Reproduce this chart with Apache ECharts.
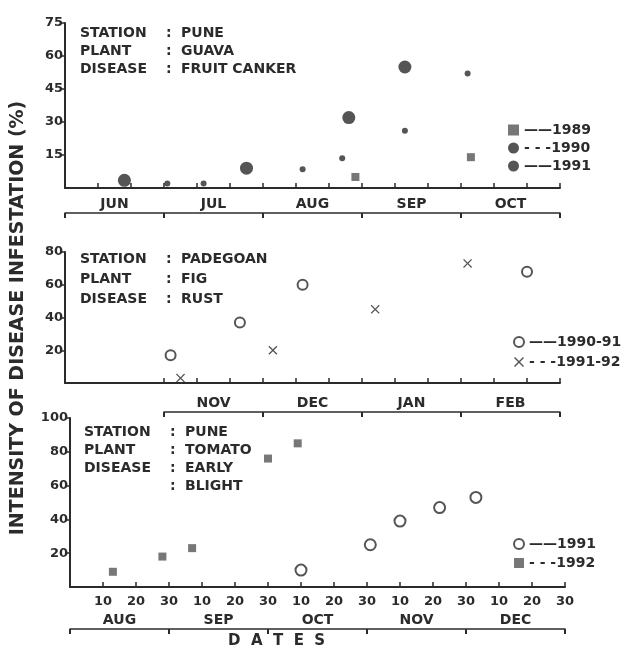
<!DOCTYPE html>
<html>
<head>
<meta charset="utf-8">
<script src="https://cdn.jsdelivr.net/npm/echarts@6/dist/echarts.min.js"></script>
<style>
  html, body { margin: 0; padding: 0; background: #fff; }
  #chart { width: 633px; height: 649px; }
</style>
</head>
<body>
<div id="chart"></div>
<script>
// x values are days counted from the first month shown in each panel (30 days per month)

// Panel 1: Pune, guava, fruit canker (Jun - Oct)
const guavaMonths = ['JUN', 'JUL', 'AUG', 'SEP', 'OCT'];
const guava1989 = [[88, 5], [123, 14]];
const guava1990 = [[18, 3.5], [55, 9], [86, 32], [103, 55]];
const guava1991 = [[31, 2], [42, 2], [72, 8.5], [84, 13.5], [103, 26], [122, 52]];

// Panel 2: Padegoan, fig, rust (Oct - Feb, labelled Nov - Feb)
const figMonths = ['NOV', 'DEC', 'JAN', 'FEB'];
const fig9091 = [[32, 17], [53, 37], [72, 60], [140, 68]];
const fig9192 = [[35, 3], [63, 20], [94, 45], [122, 73]];

// Panel 3: Pune, tomato, early blight (Aug - Dec)
const tomatoMonths = ['AUG', 'SEP', 'OCT', 'NOV', 'DEC'];
const tomato1991 = [[70, 10], [91, 25], [100, 39], [112, 47], [123, 53]];
const tomato1992 = [[13, 9], [28, 18], [37, 23], [60, 76], [69, 85]];

const ink = '#2b2b2b';
const font = "'DejaVu Sans', sans-serif";
const crossPath = 'path://M0,1L1,0L5,4L9,0L10,1L6,5L10,9L9,10L5,6L1,10L0,9L4,5Z';
// small dot inside a larger invisible box is not possible, so use a plain small circle path
const dotPath = 'path://M5,2A3,3,0,1,1,4.99,2Z';

const chart = echarts.init(document.getElementById('chart'));

function mainX(gridIndex, opts) {
    return Object.assign({
        type: 'value', gridIndex, min: 0, max: 150, interval: 10,
        splitLine: { show: false },
        axisLine: { onZero: false, lineStyle: { color: ink, width: 2 } },
        axisTick: { inside: true, length: 5, lineStyle: { color: ink, width: 1.5 } },
        axisLabel: { show: false }
    }, opts || {});
}

function monthX(gridIndex, min, offset, months) {
    const bounds = [], mids = [];
    for (let d = min; d <= 150; d += 30) bounds.push(d);
    for (let d = min + 15; d < 150; d += 30) mids.push(d);
    return {
        type: 'value', gridIndex, min, max: 150, offset,
        position: 'bottom',
        splitLine: { show: false },
        axisLine: { onZero: false, symbol: ['none', 'none'], lineStyle: { color: ink, width: 1.5 } },
        axisTick: { customValues: bounds, length: 5, lineStyle: { color: ink, width: 2 } },
        axisLabel: {
            customValues: mids, inside: true, margin: 2,
            color: ink, fontFamily: font, fontWeight: 'bold', fontSize: 14,
            formatter: v => months[Math.round((v - min - 15) / 30)]
        }
    };
}

function valY(gridIndex, max, interval) {
    return {
        type: 'value', gridIndex, min: 0, max, interval,
        splitLine: { show: false },
        axisLine: { show: true, lineStyle: { color: ink, width: 2 } },
        axisTick: { show: true, length: 5, lineStyle: { color: ink, width: 1.5 } },
        axisLabel: {
            showMinLabel: false, margin: 2,
            color: ink, fontFamily: font, fontWeight: 'bold', fontSize: 13
        }
    };
}

function infoText(x, top, lines, values, lineHeight) {
    const style = { fill: ink, font: 'bold 14px ' + font, lineHeight };
    return [
        { type: 'text', left: x, top, style: Object.assign({ text: lines.join('\n') }, style) },
        { type: 'text', left: x + 86, top, style: Object.assign({ text: lines.map(() => ':').join('\n') }, style) },
        { type: 'text', left: x + 101, top, style: Object.assign({ text: values.join('\n') }, style) }
    ];
}

const legendText = { fontFamily: font, fontWeight: 'bold', fontSize: 14, color: ink };
const legendLines = {
    '1989': '——', '1990': '- - -', '1991': '——', '1992': '- - -',
    '1990-91': '——', '1991-92': '- - -'
};
const legendFormat = n => legendLines[n.trim()] + n.trim();

chart.setOption({
    backgroundColor: '#fff',
    animation: false,
    grid: [
        { left: 65, right: 73, top: 23, height: 165 },
        { left: 65, right: 73, top: 252, height: 131 },
        { left: 164, right: 73, top: 252, height: 131 },
        { left: 70, right: 68, top: 418, height: 169 }
    ],
    xAxis: [
        mainX(0),
        monthX(0, 0, 25, guavaMonths),
        mainX(1, { axisTick: { inside: true, length: 5, customValues: [30, 40, 50, 60, 70, 80, 90, 100, 110, 120, 130, 140, 150], lineStyle: { color: ink, width: 1.5 } } }),
        monthX(2, 30, 29, figMonths),
        mainX(3, {
            axisLabel: {
                show: true, showMinLabel: false, margin: 8,
                color: ink, fontFamily: font, fontWeight: 'bold', fontSize: 13,
                formatter: v => String(v % 30 === 0 ? 30 : v % 30)
            }
        }),
        monthX(3, 0, 42, tomatoMonths)
    ],
    yAxis: [
        valY(0, 75, 15),
        valY(1, 80, 20),
        { type: 'value', gridIndex: 2, min: 0, max: 80, show: false },
        valY(3, 100, 20)
    ],
    legend: [
        {
            orient: 'vertical', left: 503, top: 118, itemGap: 4, itemWidth: 11, itemHeight: 11,
            selectedMode: false, textStyle: legendText, formatter: legendFormat,
            data: [{ name: '1989', icon: 'rect' }, { name: '1990', icon: 'circle' }, { name: '1991', icon: 'circle' }]
        },
        {
            orient: 'vertical', left: 508, top: 330, itemGap: 6, itemWidth: 10, itemHeight: 10,
            selectedMode: false, textStyle: legendText, formatter: legendFormat,
            data: [{ name: '1990-91', icon: 'emptyCircle' }, { name: '1991-92', icon: crossPath }]
        },
        {
            orient: 'vertical', left: 508, top: 532, itemGap: 5, itemWidth: 10, itemHeight: 10,
            selectedMode: false, textStyle: legendText, formatter: legendFormat,
            data: [{ name: '1991 ', icon: 'emptyCircle' }, { name: '1992', icon: 'rect' }]
        }
    ],
    graphic: [
        ...infoText(80, 24, ['STATION', 'PLANT', 'DISEASE'], ['PUNE', 'GUAVA', 'FRUIT CANKER'], 18),
        ...infoText(80, 249, ['STATION', 'PLANT', 'DISEASE'], ['PADEGOAN', 'FIG', 'RUST'], 20),
        ...infoText(84, 423, ['STATION', 'PLANT', 'DISEASE', ''], ['PUNE', 'TOMATO', 'EARLY', 'BLIGHT'], 18),
        {
            type: 'text', rotation: Math.PI / 2,
            x: 18, y: 318,
            style: {
                text: 'INTENSITY OF DISEASE INFESTATION (%)',
                fill: ink, font: 'bold 19px ' + font,
                align: 'center', verticalAlign: 'middle'
            }
        },
        {
            type: 'text', left: 228, top: 634,
            style: { text: 'D  A  T  E  S', fill: ink, font: 'bold 15px ' + font }
        }
    ],
    series: [
        {
            name: '1989', type: 'scatter', xAxisIndex: 0, yAxisIndex: 0,
            symbol: 'rect', symbolSize: 8, itemStyle: { color: '#555' }, data: guava1989
        },
        {
            name: '1990', type: 'scatter', xAxisIndex: 0, yAxisIndex: 0,
            symbol: 'circle', symbolSize: 13, itemStyle: { color: ink }, data: guava1990
        },
        {
            name: '1991', type: 'scatter', xAxisIndex: 0, yAxisIndex: 0,
            symbol: 'circle', symbolSize: 6, itemStyle: { color: ink }, data: guava1991
        },
        {
            name: '1990-91', type: 'scatter', xAxisIndex: 2, yAxisIndex: 1,
            symbol: 'emptyCircle', symbolSize: 10,
            itemStyle: { color: ink, borderWidth: 2 }, data: fig9091
        },
        {
            name: '1991-92', type: 'scatter', xAxisIndex: 2, yAxisIndex: 1,
            symbol: crossPath, symbolSize: 9, itemStyle: { color: ink }, data: fig9192
        },
        {
            name: '1991 ', type: 'scatter', xAxisIndex: 4, yAxisIndex: 3,
            symbol: 'emptyCircle', symbolSize: 11,
            itemStyle: { color: ink, borderWidth: 2 }, data: tomato1991
        },
        {
            name: '1992', type: 'scatter', xAxisIndex: 4, yAxisIndex: 3,
            symbol: 'rect', symbolSize: 8, itemStyle: { color: '#555' }, data: tomato1992
        }
    ]
});

window.addEventListener('resize', () => chart.resize());
</script>
</body>
</html>
